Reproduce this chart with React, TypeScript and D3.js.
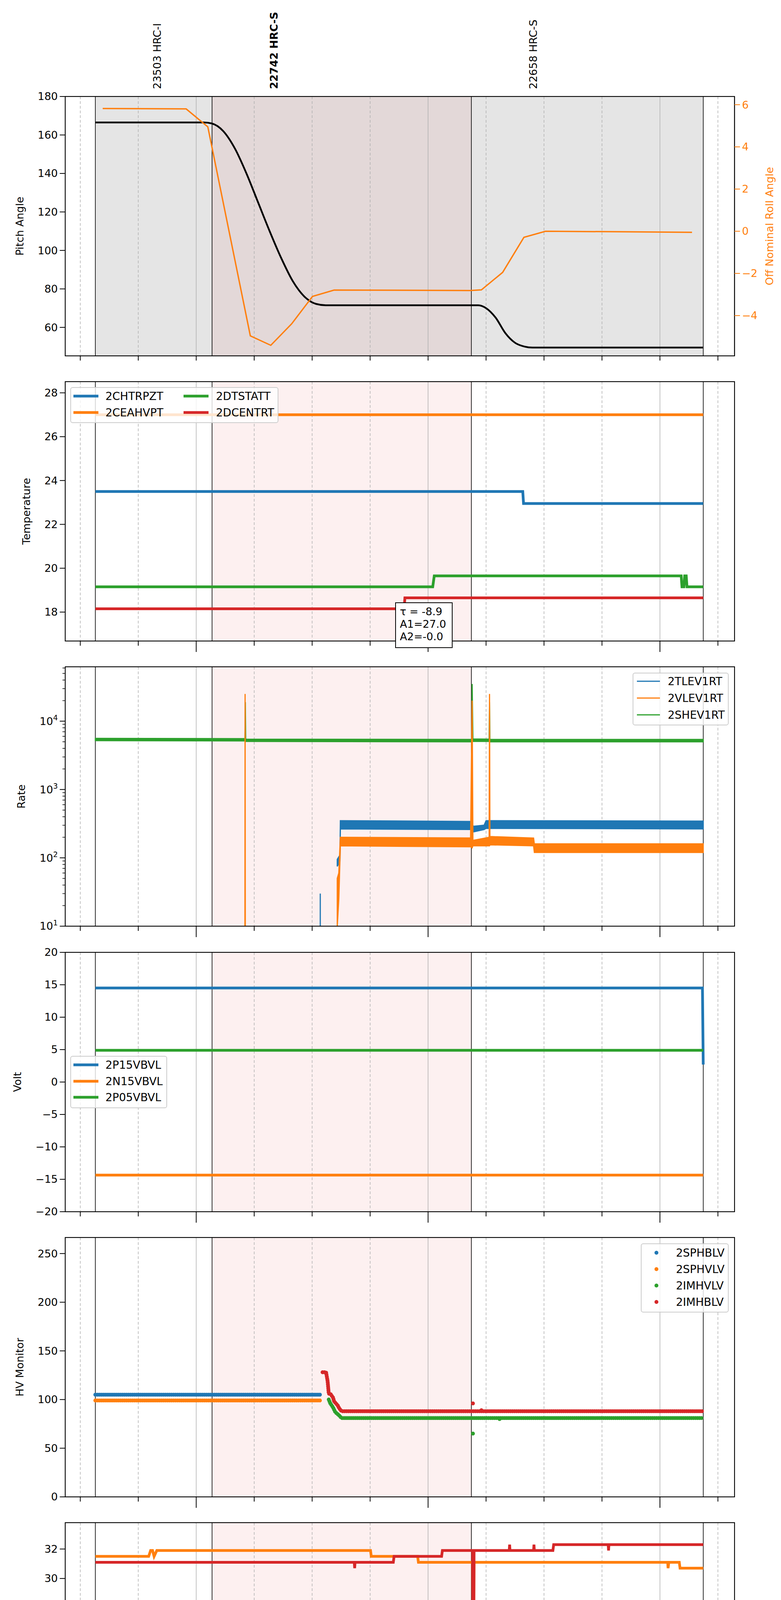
import React from "react";
import * as d3 from "d3";

// time in minutes after 17:00 on 2020-12-03
const timeDomain = [26.1, 199.3];
const obsBounds = [33.9, 64.1, 131.2, 191.2];
const obsLabels = ["23503 HRC-I", "22742 HRC-S", "22658 HRC-S"];
const obsBold = [false, true, false];

const pitch: [number, number][] = [[33.9,166.5],[62,166.5],[64,166],[67,162],[70,153],[73,140],[76,125],[79,110],[82,96],[85,84],[88,76],[91,72.2],[93.5,71.5],[133,71.5],[135,70],[137.5,65],[140,57],[142.5,52],[145,50],[147,49.5],[191.2,49.5]];
const roll: [number, number][] = [[35.8,5.82],[57.4,5.8],[63.0,4.95],[74.0,-4.96],[79.3,-5.41],[84.7,-4.39],[90.1,-3.09],[95.7,-2.79],[130.9,-2.81],[133.8,-2.78],[139.3,-1.95],[144.8,-0.29],[150.4,0],[188.3,-0.05]];

const tempNames = ["2CHTRPZT", "2CEAHVPT", "2DTSTATT", "2DCENTRT"];
const CHTRPZT: [number, number][] = [[33.9,23.5],[144.5,23.5],[144.7,22.95],[191.2,22.95]];
const CEAHVPT: [number, number][] = [[33.9,27],[191.2,27]];
const DTSTATT: [number, number][] = [[33.9,19.15],[121.2,19.15],[121.6,19.65],[185.5,19.65],[185.7,19.15],[186.2,19.15],[186.4,19.65],[186.8,19.65],[187.0,19.15],[191.2,19.15]];
const DCENTRT: [number, number][] = [[33.9,18.15],[113.8,18.15],[114.0,18.65],[191.2,18.65]];
const fitText = ["τ = -8.9", "A1=27.0", "A2=-0.0"];

const rateNames = ["2TLEV1RT", "2VLEV1RT", "2SHEV1RT"];
const TLEV_band: [number, number, number][] = [[96.5,75,95],[97.2,90,110],[97.3,265,350],[131.0,260,340],[131.3,240,300],[131.8,240,290],[134.5,260,300],[135.0,270,350],[191.2,265,345]];
const TLEV_spike: [number, number][] = [[92.1,10],[92.1,30]];
const VLEV_band: [number, number, number][] = [[96.5,10,50],[96.9,25,60],[97.3,150,200],[131.0,145,195],[131.4,140,20000],[131.6,150,180],[135.8,150,200],[135.9,150,25000],[136.0,155,205],[147.3,150,195],[147.5,120,160],[191.2,120,160]];
const VLEV_spike: [number, number][] = [[72.6,10],[72.65,25000],[72.7,10]];
const SHEV_band: [number, number, number][] = [[33.9,5200,5600],[72.6,5150,5550],[72.7,5100,19000],[72.8,5050,5450],[131.3,5000,5400],[131.4,5000,35000],[131.6,5050,5500],[135.8,5050,5450],[135.9,5000,19000],[136.0,5000,5400],[191.2,5000,5400]];

const voltNames = ["2P15VBVL", "2N15VBVL", "2P05VBVL"];
const P15: [number, number][] = [[33.9,14.5],[191.0,14.5],[191.2,2.7]];
const N15: [number, number][] = [[33.9,-14.35],[191.2,-14.35]];
const P05: [number, number][] = [[33.9,4.9],[191.2,4.9]];

const hvNames = ["2SPHBLV", "2SPHVLV", "2IMHVLV", "2IMHBLV"];
const SPHBLV: [number, number][] = [[33.9,105],[92.1,105]];
const SPHVLV: [number, number][] = [[33.9,99],[92.1,99]];
const IMHVLV: [number, number][] = [[94.3,100],[94.7,96],[95.4,92],[96.0,87],[96.9,84],[97.6,81],[191.2,81]];
const IMHBLV: [number, number][] = [[92.7,128],[93.6,128],[94.0,119],[94.3,106],[94.7,106],[95.4,102],[95.7,98],[96.6,94],[97.0,91],[97.6,88],[191.2,88]];
const IMHVLV_out: [number, number][] = [[131.6,65],[138.5,80]];
const IMHBLV_out: [number, number][] = [[131.6,96],[133.8,89]];

const detNames = ["2SPINATM", "2SPHVATM", "2IMINATM", "2IMHVATM"];
const SPINATM: [number, number][] = [[33.9,17.6],[191.2,17.6]];
const SPHVATM: [number, number][] = [[33.9,31.5],[47.7,31.5],[48.2,31.9],[48.7,31.9],[49.1,31.5],[49.8,31.9],[105.1,31.9],[105.3,31.5],[117.3,31.5],[117.5,31.1],[131.5,31.1],[131.7,17.0],[131.9,31.1],[182.0,31.1],[182.1,30.7],[182.3,31.1],[185.0,31.1],[185.2,30.7],[191.2,30.7]];
const IMINATM: [number, number][] = [[33.9,18.95],[131.6,18.95],[131.7,15.0],[131.9,18.95],[191.2,18.95]];
const IMHVATM: [number, number][] = [[33.9,31.1],[100.9,31.1],[101.0,30.7],[101.1,31.1],[111.0,31.1],[111.2,31.5],[123.5,31.5],[123.7,31.9],[131.5,31.9],[131.7,16.95],[131.9,31.9],[141.0,31.9],[141.1,32.3],[141.2,31.9],[147.3,31.9],[147.4,32.3],[147.5,31.9],[152.3,31.9],[152.5,32.3],[166.6,32.3],[166.7,31.9],[166.8,32.3],[191.2,32.3]];

const feaNames = ["2FHTRMZT", "2FRADPYT", "2FEPRATM", "2FE00ATM"];
const FHTRMZT: [number, number][] = [[33.9,22.35],[156.8,22.35],[157.0,21.8],[191.2,21.8]];
const FRADPYT: [number, number][] = [[33.9,17.65],[46.3,17.65],[46.5,18.15],[80.0,18.15],[80.2,18.65],[88.6,18.65],[88.8,18.15],[105.7,18.15],[105.9,17.65],[139.1,17.65],[139.3,17.15],[162.2,17.15],[162.4,16.65],[191.2,16.65]];
const FEPRATM: [number, number][] = [[33.9,23.85],[131.6,23.85],[131.7,26],[131.9,23.85],[191.2,23.85]];
const FE00ATM: [number, number][] = [[33.9,22.0],[67.0,22.0],[67.4,22.35],[103.1,22.35],[103.2,22.65],[103.3,22.35],[106.5,22.35],[106.6,23.0],[106.7,21.85],[106.8,22.35],[109.6,22.35],[109.7,23.3],[109.8,22.35],[112.7,22.35],[112.8,22.65],[112.9,22.35],[113.8,22.35],[113.9,22.65],[114.0,22.35],[116.9,22.35],[117.0,21.85],[117.1,22.35],[131.0,22.35],[131.2,21.9],[131.4,22.35],[131.6,22.35],[131.7,15.0],[131.9,22.35],[133.5,22.35],[134.0,21.95],[134.5,22.35],[136,22.0],[136.5,22.35],[137,22.0],[138,22.35],[138.5,22.0],[139.5,22.35],[140.0,22.0],[147.2,22.0],[147.3,22.35],[147.4,22.0],[150.5,22.0],[150.6,22.35],[150.7,22.0],[151.8,22.0],[151.9,21.1],[152.0,22.0],[165.3,22.0],[165.4,20.2],[165.5,22.0],[171.7,22.0],[171.8,22.95],[171.9,22.0],[172.4,22.0],[172.5,21.4],[172.6,22.0],[177.4,22.0],[177.5,22.35],[177.6,22.0],[179.7,22.0],[179.8,22.65],[179.9,22.0],[180.9,22.0],[181.0,21.1],[181.1,22.0],[182.7,22.0],[182.8,21.7],[184.5,21.7],[184.6,22.65],[184.7,21.7],[185.3,21.7],[185.4,22.35],[185.5,21.7],[186.3,21.7],[186.4,22.0],[186.5,21.7],[187.9,21.7],[188.0,22.0],[188.1,21.7],[188.6,21.7],[188.7,22.0],[188.8,21.7],[191.2,21.7]];

const xTickMinutes = [30,45,60,75,90,105,120,135,150,165,180,195];
const xMinorLabels = ["30","45","","15","30","45","","15","30","45","","15"];
const xHourLabels: Record<number,string> = {60:"18h",120:"19h",180:"20h"};

const C = ["#1f77b4", "#ff7f0e", "#2ca02c", "#d62728"];
const FONT = "DejaVu Sans, sans-serif";
const L = 167, R = 1881, H = 664;
const tops = [247, 977, 1707, 2438, 3168, 3898, 4630];

const x = d3.scaleLinear().domain(timeDomain).range([L, R]);

function Frame({ top, clipId, shade, children }: any) {
  return (
    <g>
      <defs><clipPath id={clipId}><rect x={L} y={top} width={R - L} height={H} /></clipPath></defs>
      <g clipPath={`url(#${clipId})`}>
        {shade === "top" ? (
          <>
            <rect x={x(obsBounds[0])} y={top} width={x(obsBounds[3]) - x(obsBounds[0])} height={H} fill="#e5e5e5" />
            <rect x={x(obsBounds[1])} y={top} width={x(obsBounds[2]) - x(obsBounds[1])} height={H} fill="#e3d8d8" />
          </>
        ) : (
          <rect x={x(obsBounds[1])} y={top} width={x(obsBounds[2]) - x(obsBounds[1])} height={H} fill="#fdf0f0" />
        )}
        {xTickMinutes.map((m) => (
          <line key={m} x1={x(m)} x2={x(m)} y1={top} y2={top + H} stroke="#b0b0b0" strokeWidth={1.5}
            strokeDasharray={m % 60 === 0 ? undefined : "7 5"} />
        ))}
        {obsBounds.map((b, i) => (
          <line key={"b" + i} x1={x(b)} x2={x(b)} y1={top} y2={top + H} stroke="#000" strokeWidth={1.6} />
        ))}
        {children}
      </g>
      <rect x={L} y={top} width={R - L} height={H} fill="none" stroke="#000" strokeWidth={2.2} />
      {xTickMinutes.map((m) => (
        <line key={"t" + m} x1={x(m)} x2={x(m)} y1={top + H} y2={top + H + (m % 60 === 0 && shade !== "top" ? 28 : 12)} stroke="#000" strokeWidth={2} />
      ))}
    </g>
  );
}

function YAxis({ top, scale, ticks, fmt, label, labelX, side = "left", color = "#000" }: any) {
  const xx = side === "left" ? L : R;
  const dir = side === "left" ? -1 : 1;
  return (
    <g fill={color}>
      {ticks.map((t: number) => (
        <g key={t}>
          <line x1={xx} x2={xx + dir * 14} y1={scale(t)} y2={scale(t)} stroke={color} strokeWidth={2} />
          <text x={xx + dir * 19} y={scale(t)} dy="0.35em" fontSize={27} fontFamily={FONT}
            textAnchor={side === "left" ? "end" : "start"}>{fmt ? fmt(t) : String(t).replace("-", "\u2212")}</text>
        </g>
      ))}
      {label ? <text transform={`translate(${labelX},${top + H / 2}) rotate(-90)`} textAnchor="middle" fontSize={27} fontFamily={FONT}>{label}</text> : null}
    </g>
  );
}

function Legend({ box, lineX, textX, rows, names, widths, marker = false, cols }: any) {
  return (
    <g>
      <rect x={box[0]} y={box[1]} width={box[2] - box[0]} height={box[3] - box[1]} fill="#fff" fillOpacity={0.8} stroke="#ccc" strokeWidth={2} rx={5} />
      {names.map((n: string, i: number) => {
        const col = cols ? cols[i] : 0;
        const row = rows[i];
        const lx = Array.isArray(lineX[0]) ? lineX[col] : lineX;
        const tx = Array.isArray(textX) ? textX[col] : textX;
        return (
          <g key={n}>
            {marker ? <circle cx={lx} cy={row} r={5} fill={C[i]} /> :
              <line x1={lx[0]} x2={lx[1]} y1={row} y2={row} stroke={C[i]} strokeWidth={widths} />}
            <text x={tx} y={row} dy="0.35em" fontSize={28} fontFamily={FONT}>{n}</text>
          </g>
        );
      })}
    </g>
  );
}

export default function App() {
  const line = (sx: any, sy: any) => d3.line<[number, number]>().x((d) => sx(d[0])).y((d) => sy(d[1]));

  const t1 = tops[0];
  const yP = d3.scaleLinear().domain([45.2, 180]).range([t1 + H, t1]);
  const yR = d3.scaleLinear().domain([-5.91, 6.39]).range([t1 + H, t1]);
  const t2 = tops[1];
  const yT = d3.scaleLinear().domain([16.68, 28.51]).range([t2 + H, t2]);
  const t3 = tops[2];
  const yL = d3.scaleLog().domain([10, 62500]).range([t3 + H, t3]);
  const area = d3.area<[number, number, number]>().x((d) => x(d[0])).y0((d) => yL(d[1])).y1((d) => yL(d[2]));
  const minorLog: number[] = [];
  for (let e = 1; e <= 4; e++) for (let k = 2; k <= 9; k++) minorLog.push(k * Math.pow(10, e));
  const t4 = tops[3];
  const yV = d3.scaleLinear().domain([-20, 20]).range([t4 + H, t4]);
  const t5 = tops[4];
  const yH = d3.scaleLinear().domain([0, 266.5]).range([t5 + H, t5]);
  const t6 = tops[5];
  const yD = d3.scaleLinear().domain([16.18, 33.79]).range([t6 + H, t6]);
  const t7 = tops[6];
  const yF = d3.scaleLinear().domain([15.65, 25.38]).range([t7 + H, t7]);

  const thick = 7;
  const sup = (e: number) => (
    <tspan>10<tspan dy="-0.6em" fontSize={19}>{e}</tspan></tspan>
  );

  return (
    <svg width={2000} height={5400} style={{ display: "block", margin: -8, background: "#fff" }} fontFamily={FONT}>
      <rect width={2000} height={5400} fill="#fff" />
      {obsLabels.map((s, i) => (
        <text key={s} transform={`translate(${x(obsBounds[i] + 16)},228) rotate(-90)`} dy="0.35em" fontSize={27}
          fontWeight={obsBold[i] ? "bold" : "normal"} fontFamily={FONT}>{s}</text>
      ))}

      {/* Panel 1 */}
      <Frame top={t1} clipId="c1" shade="top">
        <path d={line(x, yP).curve(d3.curveMonotoneX)(pitch)!} fill="none" stroke="#000" strokeWidth={4.5} />
        <path d={line(x, yR)(roll)!} fill="none" stroke={C[1]} strokeWidth={3.5} />
      </Frame>
      <YAxis top={t1} scale={yP} ticks={[60, 80, 100, 120, 140, 160, 180]} label="Pitch Angle" labelX={60} />
      <g>
        <line x1={R} x2={R} y1={t1} y2={t1 + H} stroke="#000" strokeWidth={2.2} />
        <YAxis top={t1} scale={yR} ticks={[-4, -2, 0, 2, 4, 6]} label="" labelX={0} side="right" color={C[1]} />
        <text transform={`translate(1980,${t1 + H / 2}) rotate(-90)`} textAnchor="middle" fontSize={27} fill={C[1]}>Off Nominal Roll Angle</text>
      </g>

      {/* Panel 2 */}
      <Frame top={t2} clipId="c2">
        {[CHTRPZT, CEAHVPT, DTSTATT, DCENTRT].map((s, i) => (
          <path key={i} d={line(x, yT)(s)!} fill="none" stroke={C[i]} strokeWidth={thick} />
        ))}
      </Frame>
      <YAxis top={t2} scale={yT} ticks={[18, 20, 22, 24, 26, 28]} label="Temperature" labelX={77} />
      <Legend box={[181, 992, 712, 1082]} lineX={[[188, 252], [470, 534]]} textX={[270, 553]} rows={[1014, 1056, 1014, 1056]} cols={[0, 0, 1, 1]} names={tempNames} widths={thick} />
      <g>
        <rect x={1013} y={1543} width={145} height={115} fill="#fff" stroke="#000" strokeWidth={2} />
        {fitText.map((s, i) => (
          <text key={s} x={1024} y={1566 + i * 32} dy="0.35em" fontSize={27}>{s}</text>
        ))}
      </g>

      {/* Panel 3 */}
      <Frame top={t3} clipId="c3">
        <path d={area(SHEV_band)!} fill={C[2]} stroke={C[2]} strokeWidth={3} />
        <path d={area(TLEV_band)!} fill={C[0]} stroke={C[0]} strokeWidth={3} />
        <path d={line(x, yL)(TLEV_spike)!} fill="none" stroke={C[0]} strokeWidth={3} />
        <path d={area(VLEV_band)!} fill={C[1]} stroke={C[1]} strokeWidth={3} />
        <path d={line(x, yL)(VLEV_spike)!} fill="none" stroke={C[1]} strokeWidth={3} />
      </Frame>
      <YAxis top={t3} scale={yL} ticks={[10, 100, 1000, 10000]} label="Rate" labelX={64}
        fmt={(t: number) => sup(Math.round(Math.log10(t)))} />
      {minorLog.filter((v) => v < 62500).map((v) => (
        <line key={v} x1={L} x2={L - 7} y1={yL(v)} y2={yL(v)} stroke="#000" strokeWidth={1.5} />
      ))}
      <Legend box={[1621, 1723, 1865, 1856]} lineX={[1631, 1690]} textX={1710} rows={[1744, 1787, 1830]} names={rateNames} widths={3} />

      {/* Panel 4 */}
      <Frame top={t4} clipId="c4">
        {[P15, N15, P05].map((s, i) => (
          <path key={i} d={line(x, yV)(s)!} fill="none" stroke={C[i]} strokeWidth={thick} />
        ))}
      </Frame>
      <YAxis top={t4} scale={yV} ticks={[-20, -15, -10, -5, 0, 5, 10, 15, 20]} label="Volt" labelX={54} />
      <Legend box={[181, 2704, 427, 2836]} lineX={[188, 252]} textX={270} rows={[2726, 2768, 2809]} names={voltNames} widths={thick} />

      {/* Panel 5 */}
      <Frame top={t5} clipId="c5">
        {[SPHBLV, SPHVLV, IMHVLV, IMHBLV].map((s, i) => (
          <path key={i} d={line(x, yH)(s)!} fill="none" stroke={C[i]} strokeWidth={10} strokeLinecap="round" strokeDasharray="0 5" />
        ))}
        {IMHVLV_out.map((d, i) => <circle key={"g" + i} cx={x(d[0])} cy={yH(d[1])} r={5} fill={C[2]} />)}
        {IMHBLV_out.map((d, i) => <circle key={"r" + i} cx={x(d[0])} cy={yH(d[1])} r={5} fill={C[3]} />)}
      </Frame>
      <YAxis top={t5} scale={yH} ticks={[0, 50, 100, 150, 200, 250]} label="HV Monitor" labelX={60} />
      <Legend box={[1642, 3184, 1865, 3359]} lineX={1681} textX={1731} rows={[3207, 3249, 3291, 3333]} names={hvNames} marker />

      {/* Panel 6 */}
      <Frame top={t6} clipId="c6">
        {[SPINATM, SPHVATM, IMINATM, IMHVATM].map((s, i) => (
          <path key={i} d={line(x, yD)(s)!} fill="none" stroke={C[i]} strokeWidth={thick} />
        ))}
      </Frame>
      <YAxis top={t6} scale={yD} ticks={[18, 20, 22, 24, 26, 28, 30, 32]} label="Detector Temp" labelX={77} />
      <Legend box={[1618, 4143, 1867, 4317]} lineX={[1626, 1690]} textX={1705} rows={[4166, 4208, 4250, 4291]} names={detNames} widths={thick} />

      {/* Panel 7 */}
      <Frame top={t7} clipId="c7">
        {[FHTRMZT, FRADPYT, FEPRATM, FE00ATM].map((s, i) => (
          <path key={i} d={line(x, yF)(s)!} fill="none" stroke={C[i]} strokeWidth={thick} />
        ))}
      </Frame>
      <YAxis top={t7} scale={yF} ticks={[16, 18, 20, 22, 24]} label="FEA Temp" labelX={77} />
      <Legend box={[181, 4875, 432, 5050]} lineX={[188, 252]} textX={270} rows={[4897, 4939, 4981, 5023]} names={feaNames} widths={thick} />
      {xTickMinutes.map((m, i) => (
        <text key={m} x={x(m)} y={t7 + H + 26} textAnchor="middle" fontSize={17}>{xMinorLabels[i]}</text>
      ))}
      {Object.keys(xHourLabels).map((k) => (
        <text key={k} x={x(+k)} y={t7 + H + 58} textAnchor="middle" fontSize={27}>{xHourLabels[+k]}</text>
      ))}
      <text x={(L + R) / 2} y={t7 + H + 94} textAnchor="middle" fontSize={29}>2020-12-03 (338)</text>
    </svg>
  );
}
